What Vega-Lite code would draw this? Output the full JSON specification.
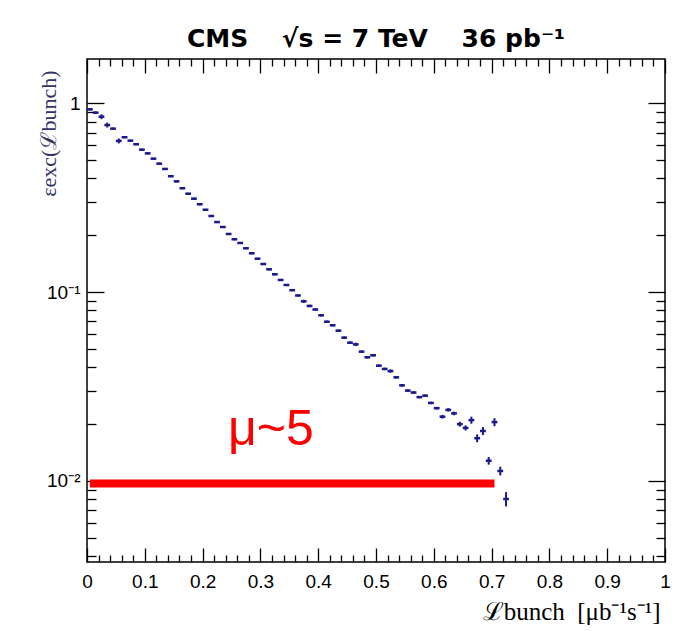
{
  "$schema": "https://vega.github.io/schema/vega-lite/v6.json",
  "width": 578,
  "height": 503,
  "autosize": "none",
  "padding": {"left": 87, "top": 59, "right": 13, "bottom": 69},
  "background": "white",
  "view": {"stroke": "black", "strokeWidth": 1.5, "fill": "white"},
  "title": {
    "text": "CMS\u2003 √s = 7 TeV\u2003 36 pb⁻¹",
    "font": "DejaVu Sans",
    "fontWeight": "bold",
    "fontSize": 25,
    "color": "black",
    "anchor": "middle",
    "baseline": "alphabetic",
    "offset": -14
  },
  "datasets": {
    "eff": [
      {"lo": 0.00, "hi": 0.01, "c": 0.005, "v": 0.929, "e": 0.014},
      {"lo": 0.01, "hi": 0.02, "c": 0.015, "v": 0.892, "e": 0.013},
      {"lo": 0.02, "hi": 0.03, "c": 0.025, "v": 0.849, "e": 0.025},
      {"lo": 0.03, "hi": 0.04, "c": 0.035, "v": 0.767, "e": 0.023},
      {"lo": 0.04, "hi": 0.05, "c": 0.045, "v": 0.734, "e": 0.009},
      {"lo": 0.05, "hi": 0.06, "c": 0.055, "v": 0.632, "e": 0.019},
      {"lo": 0.06, "hi": 0.07, "c": 0.065, "v": 0.661, "e": 0.008},
      {"lo": 0.07, "hi": 0.08, "c": 0.075, "v": 0.634, "e": 0.008},
      {"lo": 0.08, "hi": 0.09, "c": 0.085, "v": 0.607, "e": 0.007},
      {"lo": 0.09, "hi": 0.10, "c": 0.095, "v": 0.568, "e": 0.007},
      {"lo": 0.10, "hi": 0.11, "c": 0.105, "v": 0.543, "e": 0.0065},
      {"lo": 0.11, "hi": 0.12, "c": 0.115, "v": 0.509, "e": 0.006},
      {"lo": 0.12, "hi": 0.13, "c": 0.125, "v": 0.479, "e": 0.006},
      {"lo": 0.13, "hi": 0.14, "c": 0.135, "v": 0.449, "e": 0.0055},
      {"lo": 0.14, "hi": 0.15, "c": 0.145, "v": 0.411, "e": 0.005},
      {"lo": 0.15, "hi": 0.16, "c": 0.155, "v": 0.386, "e": 0.0046},
      {"lo": 0.16, "hi": 0.17, "c": 0.165, "v": 0.355, "e": 0.0043},
      {"lo": 0.17, "hi": 0.18, "c": 0.175, "v": 0.332, "e": 0.004},
      {"lo": 0.18, "hi": 0.19, "c": 0.185, "v": 0.3125, "e": 0.0038},
      {"lo": 0.19, "hi": 0.20, "c": 0.195, "v": 0.292, "e": 0.0035},
      {"lo": 0.20, "hi": 0.21, "c": 0.205, "v": 0.273, "e": 0.0033},
      {"lo": 0.21, "hi": 0.22, "c": 0.215, "v": 0.253, "e": 0.003},
      {"lo": 0.22, "hi": 0.23, "c": 0.225, "v": 0.235, "e": 0.0028},
      {"lo": 0.23, "hi": 0.24, "c": 0.235, "v": 0.2213, "e": 0.0027},
      {"lo": 0.24, "hi": 0.25, "c": 0.245, "v": 0.2032, "e": 0.0024},
      {"lo": 0.25, "hi": 0.26, "c": 0.255, "v": 0.1905, "e": 0.0023},
      {"lo": 0.26, "hi": 0.27, "c": 0.265, "v": 0.1821, "e": 0.0022},
      {"lo": 0.27, "hi": 0.28, "c": 0.275, "v": 0.1707, "e": 0.002},
      {"lo": 0.28, "hi": 0.29, "c": 0.285, "v": 0.1606, "e": 0.0019},
      {"lo": 0.29, "hi": 0.30, "c": 0.295, "v": 0.1503, "e": 0.0018},
      {"lo": 0.30, "hi": 0.31, "c": 0.305, "v": 0.1409, "e": 0.0017},
      {"lo": 0.31, "hi": 0.32, "c": 0.315, "v": 0.1321, "e": 0.0016},
      {"lo": 0.32, "hi": 0.33, "c": 0.325, "v": 0.1243, "e": 0.0015},
      {"lo": 0.33, "hi": 0.34, "c": 0.335, "v": 0.1160, "e": 0.0014},
      {"lo": 0.34, "hi": 0.35, "c": 0.345, "v": 0.1091, "e": 0.0013},
      {"lo": 0.35, "hi": 0.36, "c": 0.355, "v": 0.1024, "e": 0.0012},
      {"lo": 0.36, "hi": 0.37, "c": 0.365, "v": 0.0960, "e": 0.0012},
      {"lo": 0.37, "hi": 0.38, "c": 0.375, "v": 0.0894, "e": 0.0018},
      {"lo": 0.38, "hi": 0.39, "c": 0.385, "v": 0.0845, "e": 0.0013},
      {"lo": 0.39, "hi": 0.40, "c": 0.395, "v": 0.0809, "e": 0.0012},
      {"lo": 0.40, "hi": 0.41, "c": 0.405, "v": 0.0754, "e": 0.0011},
      {"lo": 0.41, "hi": 0.42, "c": 0.415, "v": 0.0697, "e": 0.001},
      {"lo": 0.42, "hi": 0.43, "c": 0.425, "v": 0.0668, "e": 0.001},
      {"lo": 0.43, "hi": 0.44, "c": 0.435, "v": 0.0625, "e": 0.0009},
      {"lo": 0.44, "hi": 0.45, "c": 0.445, "v": 0.0574, "e": 0.0009},
      {"lo": 0.45, "hi": 0.46, "c": 0.455, "v": 0.0540, "e": 0.0008},
      {"lo": 0.46, "hi": 0.47, "c": 0.465, "v": 0.0529, "e": 0.0011},
      {"lo": 0.47, "hi": 0.48, "c": 0.475, "v": 0.0484, "e": 0.0007},
      {"lo": 0.48, "hi": 0.49, "c": 0.485, "v": 0.0452, "e": 0.0007},
      {"lo": 0.49, "hi": 0.50, "c": 0.495, "v": 0.0463, "e": 0.0007},
      {"lo": 0.50, "hi": 0.51, "c": 0.505, "v": 0.0408, "e": 0.0006},
      {"lo": 0.51, "hi": 0.52, "c": 0.515, "v": 0.0392, "e": 0.0006},
      {"lo": 0.52, "hi": 0.53, "c": 0.525, "v": 0.0382, "e": 0.0008},
      {"lo": 0.53, "hi": 0.54, "c": 0.535, "v": 0.0354, "e": 0.0006},
      {"lo": 0.54, "hi": 0.55, "c": 0.545, "v": 0.0321, "e": 0.0005},
      {"lo": 0.55, "hi": 0.56, "c": 0.555, "v": 0.0301, "e": 0.0005},
      {"lo": 0.56, "hi": 0.57, "c": 0.565, "v": 0.0294, "e": 0.0005},
      {"lo": 0.57, "hi": 0.58, "c": 0.575, "v": 0.0278, "e": 0.0004},
      {"lo": 0.58, "hi": 0.59, "c": 0.585, "v": 0.0283, "e": 0.0004},
      {"lo": 0.59, "hi": 0.60, "c": 0.595, "v": 0.0259, "e": 0.0004},
      {"lo": 0.60, "hi": 0.61, "c": 0.605, "v": 0.0243, "e": 0.0004},
      {"lo": 0.61, "hi": 0.62, "c": 0.615, "v": 0.0219, "e": 0.0005},
      {"lo": 0.62, "hi": 0.63, "c": 0.625, "v": 0.0238, "e": 0.0005},
      {"lo": 0.63, "hi": 0.64, "c": 0.635, "v": 0.0228, "e": 0.0005},
      {"lo": 0.64, "hi": 0.65, "c": 0.645, "v": 0.0200, "e": 0.0006},
      {"lo": 0.65, "hi": 0.66, "c": 0.655, "v": 0.0191, "e": 0.0006},
      {"lo": 0.66, "hi": 0.67, "c": 0.665, "v": 0.0210, "e": 0.0009},
      {"lo": 0.67, "hi": 0.68, "c": 0.675, "v": 0.01685, "e": 0.0008},
      {"lo": 0.68, "hi": 0.69, "c": 0.685, "v": 0.0184, "e": 0.0009},
      {"lo": 0.69, "hi": 0.70, "c": 0.695, "v": 0.0128, "e": 0.0006},
      {"lo": 0.70, "hi": 0.71, "c": 0.705, "v": 0.0205, "e": 0.001},
      {"lo": 0.71, "hi": 0.72, "c": 0.715, "v": 0.0113, "e": 0.0006},
      {"lo": 0.72, "hi": 0.73, "c": 0.725, "v": 0.00803, "e": 0.0007}
    ],
    "line": [{"a": 0.005, "b": 0.705, "y": 0.0097}],
    "label": [{"x": 0.318, "y": 0.0155, "t": "μ~5"}]
  },
  "resolve": {"axis": {"x": "independent", "y": "independent"}},
  "layer": [
    {
      "data": {"name": "eff"},
      "mark": {"type": "rule", "color": "#1a1a8c", "strokeWidth": 2.5},
      "encoding": {
        "x": {
          "field": "lo", "type": "quantitative",
          "scale": {"domain": [0, 1], "nice": false, "zero": false},
          "axis": {
            "orient": "bottom", "values": [0, 0.1, 0.2, 0.3, 0.4, 0.5, 0.6, 0.7, 0.8, 0.9, 1],
            "tickSize": -14, "tickColor": "black", "tickWidth": 1.3, "domain": false, "grid": false,
            "labelExpr": "datum.value == 0 ? '0' : datum.value == 1 ? '1' : format(datum.value, '.1f')",
            "labelFont": "Liberation Sans", "labelFontSize": 19, "labelColor": "black", "labelPadding": 24,
            "labelFlush": false, "labelOverlap": false,
            "title": "ℒbunch\u2002[μb⁻¹s⁻¹]", "titleFont": "Liberation Serif", "titleFontSize": 25,
            "titleFontWeight": "normal", "titleColor": "black",
            "titleX": 573, "titleY": 57, "titleAlign": "right", "titleBaseline": "alphabetic"
          }
        },
        "x2": {"field": "hi"},
        "y": {
          "field": "v", "type": "quantitative",
          "scale": {"type": "log", "domain": [0.003724, 1.716], "nice": false},
          "axis": {
            "orient": "left", "values": [0.01, 0.1, 1],
            "tickSize": -17, "tickColor": "black", "tickWidth": 1.3, "domain": false, "grid": false,
            "labelExpr": "datum.value == 1 ? '1' : datum.value == 0.1 ? '10⁻¹' : '10⁻²'",
            "labelFont": "Liberation Sans", "labelFontSize": 19, "labelColor": "black", "labelPadding": 24,
            "labelFlush": false, "labelOverlap": false,
            "title": "εexc(ℒbunch)", "titleFont": "Liberation Serif", "titleFontSize": 22,
            "titleFontWeight": "normal", "titleColor": "#333366",
            "titleX": -39, "titleY": 11, "titleAlign": "right", "titleAngle": -90, "titleBaseline": "middle"
          }
        }
      }
    },
    {
      "data": {"name": "eff"},
      "mark": {"type": "errorbar", "ticks": false, "color": "#1a1a8c", "thickness": 2},
      "encoding": {
        "x": {
          "field": "c", "type": "quantitative",
          "scale": {"domain": [0, 1], "nice": false, "zero": false},
          "axis": {
            "orient": "top", "values": [0, 0.1, 0.2, 0.3, 0.4, 0.5, 0.6, 0.7, 0.8, 0.9, 1],
            "tickSize": -14, "tickColor": "black", "tickWidth": 1.3, "domain": false, "grid": false,
            "labels": false, "title": null
          }
        },
        "y": {
          "field": "v", "type": "quantitative",
          "scale": {"type": "log", "domain": [0.003724, 1.716], "nice": false},
          "axis": {
            "orient": "right", "values": [0.01, 0.1, 1],
            "tickSize": -17, "tickColor": "black", "tickWidth": 1.3, "domain": false, "grid": false,
            "labels": false, "title": null
          }
        },
        "yError": {"field": "e"}
      }
    },
    {
      "data": {"name": "line"},
      "mark": {"type": "rule", "color": "#ff0000", "strokeWidth": 8, "strokeCap": "butt"},
      "encoding": {
        "x": {
          "field": "a", "type": "quantitative",
          "scale": {"domain": [0, 1], "nice": false, "zero": false},
          "axis": {
            "orient": "bottom",
            "values": [0.02, 0.04, 0.06, 0.08, 0.12, 0.14, 0.16, 0.18, 0.22, 0.24, 0.26, 0.28, 0.32, 0.34, 0.36, 0.38, 0.42, 0.44, 0.46, 0.48, 0.52, 0.54, 0.56, 0.58, 0.62, 0.64, 0.66, 0.68, 0.72, 0.74, 0.76, 0.78, 0.82, 0.84, 0.86, 0.88, 0.92, 0.94, 0.96, 0.98],
            "tickSize": -7, "tickColor": "black", "tickWidth": 1.3, "domain": false, "grid": false,
            "labels": false, "title": null
          }
        },
        "x2": {"field": "b"},
        "y": {
          "field": "y", "type": "quantitative",
          "scale": {"type": "log", "domain": [0.003724, 1.716], "nice": false},
          "axis": {
            "orient": "left",
            "values": [0.004, 0.005, 0.006, 0.007, 0.008, 0.009, 0.02, 0.03, 0.04, 0.05, 0.06, 0.07, 0.08, 0.09, 0.2, 0.3, 0.4, 0.5, 0.6, 0.7, 0.8, 0.9],
            "tickSize": -9, "tickColor": "black", "tickWidth": 1.3, "domain": false, "grid": false,
            "labels": false, "title": null
          }
        }
      }
    },
    {
      "data": {"name": "label"},
      "mark": {"type": "text", "color": "#ff0000", "font": "Liberation Sans", "fontSize": 50, "align": "center", "baseline": "alphabetic"},
      "encoding": {
        "text": {"field": "t"},
        "x": {
          "field": "x", "type": "quantitative",
          "scale": {"domain": [0, 1], "nice": false, "zero": false},
          "axis": {
            "orient": "top",
            "values": [0.02, 0.04, 0.06, 0.08, 0.12, 0.14, 0.16, 0.18, 0.22, 0.24, 0.26, 0.28, 0.32, 0.34, 0.36, 0.38, 0.42, 0.44, 0.46, 0.48, 0.52, 0.54, 0.56, 0.58, 0.62, 0.64, 0.66, 0.68, 0.72, 0.74, 0.76, 0.78, 0.82, 0.84, 0.86, 0.88, 0.92, 0.94, 0.96, 0.98],
            "tickSize": -7, "tickColor": "black", "tickWidth": 1.3, "domain": false, "grid": false,
            "labels": false, "title": null
          }
        },
        "y": {
          "field": "y", "type": "quantitative",
          "scale": {"type": "log", "domain": [0.003724, 1.716], "nice": false},
          "axis": {
            "orient": "right",
            "values": [0.004, 0.005, 0.006, 0.007, 0.008, 0.009, 0.02, 0.03, 0.04, 0.05, 0.06, 0.07, 0.08, 0.09, 0.2, 0.3, 0.4, 0.5, 0.6, 0.7, 0.8, 0.9],
            "tickSize": -9, "tickColor": "black", "tickWidth": 1.3, "domain": false, "grid": false,
            "labels": false, "title": null
          }
        }
      }
    }
  ]
}
